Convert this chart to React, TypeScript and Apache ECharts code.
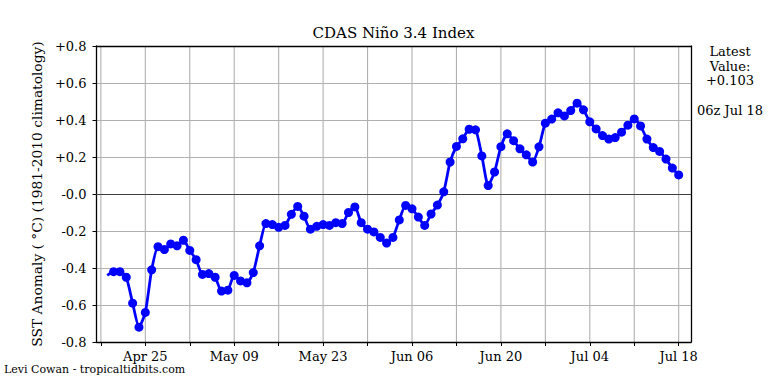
import React, { useEffect, useRef } from "react";
import * as echarts from "echarts";

// Daily CDAS Niño 3.4 values, Apr 19 .. Jul 18 (day offset 0 = Apr 19)
const ninoValues = [
  -0.44, -0.42, -0.42, -0.45, -0.59, -0.72, -0.64, -0.41, -0.285, -0.3, -0.27, -0.28,
  -0.25, -0.305, -0.355, -0.435, -0.43, -0.45, -0.525, -0.52, -0.44, -0.47, -0.48, -0.425,
  -0.28, -0.16, -0.165, -0.18, -0.17, -0.11, -0.067, -0.12, -0.19, -0.175, -0.165, -0.17,
  -0.155, -0.16, -0.1, -0.07, -0.155, -0.19, -0.205, -0.235, -0.265, -0.235, -0.14, -0.062,
  -0.08, -0.125, -0.17, -0.108, -0.06, 0.012, 0.173, 0.257, 0.298, 0.35, 0.347, 0.206,
  0.046, 0.119, 0.256, 0.325, 0.288, 0.244, 0.212, 0.173, 0.255, 0.383, 0.405, 0.439,
  0.422, 0.451, 0.491, 0.455, 0.39, 0.352, 0.316, 0.297, 0.305, 0.334, 0.372, 0.406,
  0.368, 0.297, 0.251, 0.23, 0.189, 0.14, 0.103,
];
// day offsets (from Apr 19) of the weekly ticks and the labelled ones
const xTickDays = [-1, 6, 13, 20, 27, 34, 41, 48, 55, 62, 69, 76, 83, 90];
const xLabelDays = [6, 20, 34, 48, 62, 76, 90];
const xTickLabels = ["Apr 25", "May 09", "May 23", "Jun 06", "Jun 20", "Jul 04", "Jul 18"];
const latestText = ["Latest", "Value:", "+0.103"];
const latestTime = "06z Jul 18";

const FONT = "DejaVu Serif";
const X_MIN = -1.69;
const X_MAX = 91.94;
const GRID_COLOR = "#b0b0b0";
const ZERO_COLOR = "#404040";

export default function App() {
  const ref = useRef<HTMLDivElement>(null);
  useEffect(() => {
    const chart = echarts.init(ref.current!, null, { renderer: "svg" });
    const data = ninoValues.map((v, i) =>
      i === 0 ? { value: [i, v], symbol: "none" } : { value: [i, v] }
    );
    const spine = { show: true, onZero: false, lineStyle: { color: "#000", width: 1.3 } };
    chart.setOption({
      animation: false,
      backgroundColor: "#ffffff",
      textStyle: { fontFamily: FONT },
      grid: { left: 96.5, top: 46, width: 594.5, height: 296 },
      xAxis: [
        {
          type: "value",
          min: X_MIN,
          max: X_MAX,
          axisLine: spine,
          axisTick: {
            show: true,
            length: 4,
            customValues: xTickDays,
            lineStyle: { color: "#000", width: 1 },
          },
          axisLabel: {
            customValues: xLabelDays,
            formatter: (v: number) => {
              const k = xLabelDays.indexOf(Math.round(v));
              return k >= 0 ? xTickLabels[k] : "";
            },
            color: "#000",
            fontFamily: FONT,
            fontSize: 13,
            margin: 8,
          },
          splitLine: { show: false },
          z: 10,
        },
        {
          type: "value",
          position: "top",
          min: X_MIN,
          max: X_MAX,
          axisLine: spine,
          axisTick: { show: false },
          axisLabel: { show: false },
          splitLine: { show: false },
          z: 10,
        },
        {
          // zero reference line: an unlabeled axis sitting on y = 0
          type: "value",
          position: "bottom",
          min: X_MIN,
          max: X_MAX,
          axisLine: { show: true, onZero: true, lineStyle: { color: ZERO_COLOR, width: 1.2 } },
          axisTick: { show: false },
          axisLabel: { show: false },
          splitLine: { show: false },
          z: 3,
        },
      ],
      yAxis: [
        {
          type: "value",
          min: -0.8,
          max: 0.8,
          interval: 0.2,
          name: "SST Anomaly ( °C) (1981-2010 climatology)",
          nameLocation: "middle",
          nameGap: 53,
          nameTextStyle: { fontFamily: FONT, fontSize: 13.8, color: "#000" },
          axisLine: spine,
          axisTick: { show: true, length: 4, lineStyle: { color: "#000", width: 1 } },
          axisLabel: {
            formatter: (v: number) => (v > 1e-9 ? "+" : "-") + Math.abs(v).toFixed(1),
            color: "#000",
            fontFamily: FONT,
            fontSize: 13,
            margin: 10,
          },
          splitLine: { show: true, lineStyle: { color: GRID_COLOR, width: 1 } },
          z: 1,
        },
        {
          type: "value",
          position: "right",
          min: -0.8,
          max: 0.8,
          interval: 0.2,
          axisLine: spine,
          axisTick: { show: false },
          axisLabel: { show: false },
          splitLine: { show: false },
          z: 10,
        },
      ],
      series: [
        {
          type: "custom",
          silent: true,
          z: 1,
          data: xTickDays.map((d) => [d, 0]),
          encode: { x: 0, y: 1 },
          renderItem: (_p: any, api: any) => {
            const a = api.coord([api.value(0), 0.8]);
            const b = api.coord([api.value(0), -0.8]);
            return {
              type: "line",
              shape: { x1: a[0], y1: a[1], x2: b[0], y2: b[1] },
              style: { stroke: GRID_COLOR, lineWidth: 1.1 },
            };
          },
        },
        {
          type: "line",
          data,
          smooth: 0.2,
          symbol: "circle",
          symbolSize: 9,
          itemStyle: { color: "#0000ff" },
          lineStyle: { color: "#0000ff", width: 2.8 },
          z: 5,
        },
      ],
      graphic: [
        {
          type: "text",
          x: 393.5,
          y: 25,
          style: { text: "CDAS Niño 3.4 Index", fontFamily: FONT, fontSize: 15, fill: "#000", textAlign: "center" },
        },
        ...latestText.map((t, i) => ({
          type: "text",
          x: 730,
          y: 45 + i * 14.5,
          style: { text: t, fontFamily: FONT, fontSize: 13, fill: "#000", textAlign: "center" },
        })),
        {
          type: "text",
          x: 730,
          y: 104,
          style: { text: latestTime, fontFamily: FONT, fontSize: 13, fill: "#000", textAlign: "center" },
        },
        {
          type: "text",
          x: 4,
          y: 364,
          style: { text: "Levi Cowan - tropicaltidbits.com", fontFamily: FONT, fontSize: 11, fill: "#000" },
        },
      ],
    });
    return () => chart.dispose();
  }, []);
  return <div ref={ref} style={{ width: 768, height: 384, position: "absolute", left: 0, top: 0 }} />;
}
